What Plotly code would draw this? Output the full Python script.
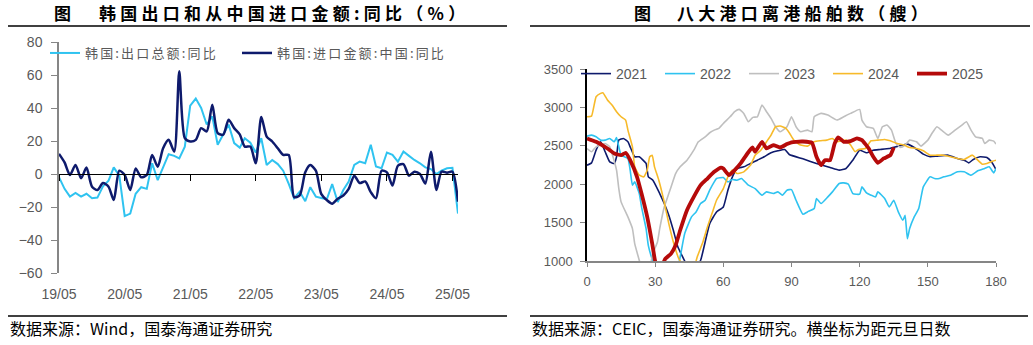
import plotly.graph_objects as go
import pandas as pd

# ---------------- Left panel data (monthly, YoY %) ----------------
months = pd.date_range("2019-05-01", "2025-06-01", freq="MS").strftime("%Y-%m-%d").tolist()
export_yoy = [-2, -9, -13.7, -11.5, -13.7, -12, -14.7, -14.3, -7.5, -4,
              4, -1, -25.5, -24, -12, -8, -9, 6.5, -3.7, 4.5,
              12, 11, 9.5, 16.6, 41.4, 45.7, 40, 30, 34.9, 17.7,
              23.8, 30, 18.7, 16, 21.7, 19, 13, 21.7, 5.5, 8.5,
              6, 2, -6, -14.7, -10.7, -16.5, -8, -13.7, -14.5, -15.4,
              -6.1, -17, -9.7, -4.6, 5.5, 7.5, 6.5, 17.7, 4.5, 3.5,
              13, 11.6, 7.5, 13.6, 11, 8.5, 6.5, 4, 3, 0,
              2, 3.5, 3.8, -24]
import_cn_yoy = [12.2, 7, -0.6, 5.5, -2.6, 3.9, -7.7, -9.7, -5.5, -7.7,
                 -15.8, 2, -0.6, -9.7, 3.4, -2, -0.6, 11.5, 4.4, 15.6,
                 20.7, 13.6, 62.3, 21.7, 19.7, 20.7, 27.8, 25.8, 42, 24.8,
                 23.8, 32.9, 27.8, 24, 16.6, 16.6, 6.5, 34.5, 22.7, 19.7,
                 15.6, 11.6, 11.5, -14, -13, 1, 5.4, 2, -12, -15.8,
                 -18, -15, -13, -9, -1, -5.5, -4.5, -11, -14.7, 2,
                 1, -7, 5, 6, -1, 1.4, 0, -5.7, 13.5, -9.7,
                 1.4, 0.8, 1.4, -16.8]
left_tick_vals = ["2019-05-01", "2020-05-01", "2021-05-01", "2022-05-01",
                  "2023-05-01", "2024-05-01", "2025-05-01"]
left_tick_text = ["19/05", "20/05", "21/05", "22/05", "23/05", "24/05", "25/05"]

# ---------------- Right panel data (days since New Year, ships) ----------------
d2021 = [0, 2, 4, 6, 8, 10, 12, 13, 14, 16, 18, 19, 21, 23, 26, 27, 29, 32, 34, 36, 38, 40, 43, 46,
         50, 52, 54, 57, 60, 62, 64, 66, 69, 72, 75, 78, 81, 84, 87, 89, 95, 101, 107, 111, 114,
         117, 120, 123, 126, 129, 133, 137, 141, 144, 148, 151, 154, 159, 163, 166, 168, 170, 173,
         176, 178, 180]
v2021 = [2248, 2278, 2443, 2552, 2422, 2291, 2270, 2357, 2574, 2596, 2552, 2487, 2357, 2357, 2270,
         2096, 2052, 1878, 1748, 1596, 1400, 1183, 1000, 820, 1009, 1248, 1487, 1639, 1704, 1922,
         2096, 2204, 2226, 2270, 2313, 2357, 2409, 2435, 2452, 2387, 2330, 2270, 2217, 2183, 2204,
         2313, 2443, 2409, 2443, 2452, 2465, 2496, 2522, 2478, 2391, 2357, 2365, 2378, 2335, 2313,
         2278, 2322, 2357, 2348, 2291, 2191]

d2022 = [0, 2, 4, 6, 8, 10, 12, 13, 14, 15, 18, 19, 20, 21, 23, 24, 26, 27, 29, 33, 39, 41, 43, 46,
         48, 50, 52, 54, 56, 57, 60, 62, 64, 66, 68, 71, 74, 77, 79, 82, 84, 86, 88, 90, 92, 95,
         97, 100, 101, 103, 106, 108, 111, 113, 115, 117, 120, 121, 123, 125, 127, 128, 131, 133,
         135, 137, 139, 140, 141, 142, 144, 146, 148, 151, 153, 155, 157, 160, 163, 166, 169, 172,
         175, 177, 179, 180]
v2022 = [2626, 2639, 2617, 2574, 2574, 2596, 2552, 2609, 2487, 2378, 2335, 2183, 1987, 2030, 1878,
         1704, 1422, 1200, 1000, 750, 800, 1052, 1357, 1574, 1639, 1748, 1791, 1922, 2030, 2074,
         2087, 2030, 2061, 2052, 2074, 1987, 1943, 1857, 1900, 1878, 1900, 1857, 1922, 1930, 1791,
         1609, 1639, 1683, 1813, 1748, 1835, 1900, 2009, 2017, 2000, 1878, 1870, 1965, 1887, 1857,
         1835, 1900, 1813, 1704, 1791, 1639, 1530, 1596, 1291, 1422, 1574, 1683, 1965, 2096, 2074,
         2074, 2096, 2117, 2161, 2161, 2117, 2174, 2204, 2226, 2148, 2204]

d2023 = [0, 2, 4, 6, 8, 10, 11, 13, 14, 15, 18, 20, 21, 23, 26, 29, 31, 32, 34, 35, 37, 39, 41, 44,
         47, 49, 52, 54, 56, 58, 60, 63, 65, 67, 69, 71, 73, 75, 77, 79, 81, 83, 85, 88, 90, 92,
         94, 97, 99, 100, 103, 106, 110, 113, 116, 120, 121, 123, 126, 128, 130, 132, 134, 136,
         138, 140, 142, 145, 147, 150, 152, 154, 156, 159, 162, 165, 167, 169, 171, 174, 175, 177,
         179, 180]
v2023 = [2465, 2422, 2487, 2509, 2530, 2487, 2400, 2183, 1943, 1770, 1574, 1422, 1226, 1009, 700,
         1096, 1248, 1422, 1704, 1791, 1965, 2139, 2226, 2313, 2443, 2552, 2617, 2670, 2704, 2726,
         2791, 2878, 2944, 2974, 2922, 2813, 2870, 2878, 3031, 2944, 2857, 2748, 2683, 2748, 2878,
         2748, 2683, 2704, 2683, 2878, 2922, 2900, 2835, 2878, 2922, 2974, 2835, 2748, 2726, 2596,
         2748, 2770, 2704, 2530, 2478, 2509, 2574, 2552, 2496, 2574, 2670, 2748, 2704, 2639, 2704,
         2770, 2813, 2704, 2617, 2596, 2530, 2574, 2561, 2522]

d2024 = [0, 2, 4, 6, 7, 9, 11, 13, 15, 17, 18, 20, 21, 23, 25, 26.5, 27.6, 28.7, 29.7, 31.6, 33.8,
         36, 38, 40.4, 41, 44, 48, 48.5, 51, 53, 55, 57, 60, 62, 64, 66, 69, 72, 74, 76.5, 79, 81,
         83, 85, 87.5, 89, 91, 94, 97, 100, 102.5, 105.5, 108, 110, 114, 116, 118, 119.5, 122.5,
         125, 128, 131, 133.5, 136.5, 139.5, 142, 145, 148, 151, 154, 157, 160, 163, 166, 169.6,
         172, 174, 176, 178.5, 180]
v2024 = [2878, 2887, 3139, 3183, 3191, 3096, 3031, 2944, 2878, 2835, 2704, 2487, 2226, 2117, 2096,
         2183, 2357, 2378, 2226, 2052, 1791, 1487, 1248, 1030, 1000, 780, 1000, 1052, 1248, 1443,
         1617, 1791, 1943, 2096, 2183, 2139, 2161, 2248, 2378, 2443, 2552, 2639, 2748, 2757, 2726,
         2670, 2574, 2509, 2496, 2552, 2565, 2574, 2596, 2552, 2574, 2509, 2422, 2452, 2465, 2565,
         2574, 2583, 2565, 2530, 2509, 2478, 2465, 2435, 2378, 2378, 2378, 2357, 2335, 2322, 2378,
         2313, 2261, 2270, 2300, 2313]

d2025 = [0, 4, 9, 12, 15, 17, 19, 22, 24, 26.5, 28.7, 30, 32, 34.5, 37, 39, 41, 44, 47, 50, 53, 56,
         59, 60, 62.5, 65, 67.6, 70.6, 72.8, 74, 77, 79, 82, 85, 88, 90, 92, 95, 99, 101, 103,
         104.7, 107, 109, 110.6, 113, 116, 118.8, 121, 124, 126, 128, 130.6, 133.5, 135]
v2025 = [2596, 2552, 2465, 2400, 2378, 2409, 2313, 2096, 1878, 1574, 1226, 1000, 880, 1030, 1096,
         1204, 1400, 1661, 1835, 1987, 2074, 2161, 2217, 2204, 2117, 2183, 2270, 2400, 2478, 2422,
         2552, 2465, 2509, 2478, 2522, 2545, 2552, 2556, 2539, 2357, 2248, 2313, 2313, 2530, 2609,
         2552, 2561, 2596, 2574, 2465, 2357, 2278, 2335, 2378, 2478]

W, H = 1033, 345
def px(x):
    return x / W
def py(y):
    return (H - y) / H

LIGHT = "#2FC3F0"
NAVY = "#0E1A6C"
TICKC = "#595959"
AXC = "#868686"
CJK = "Noto Sans CJK SC"
LAT = "Liberation Sans"

def spaced(s, sp="\u2006"):
    return sp.join(list(s))

fig = go.Figure()

# Left panel traces
fig.add_trace(go.Scatter(x=months, y=export_yoy, mode="lines",
                         name=spaced("韩国:出口总额:同比") + "\u2003\u2005",
                         line=dict(color=LIGHT, width=2), xaxis="x", yaxis="y", legend="legend",
                         hoverinfo="skip"))
fig.add_trace(go.Scatter(x=months, y=import_cn_yoy, mode="lines", name=spaced("韩国:进口金额:中国:同比"),
                         line=dict(color=NAVY, width=2.5, shape="spline", smoothing=0.7),
                         xaxis="x", yaxis="y", legend="legend", hoverinfo="skip"))
# helper invisible trace so the zero-line tick axis is drawn
fig.add_trace(go.Scatter(x=months, y=export_yoy, mode="lines", line=dict(width=0), opacity=0,
                         xaxis="x3", yaxis="y", showlegend=False, hoverinfo="skip"))

# Right panel traces
for d, v, nm, col, w in [(d2021, v2021, "2021", NAVY, 1.6),
                         (d2022, v2022, "2022", LIGHT, 1.6),
                         (d2023, v2023, "2023", "#BFBFBF", 1.6),
                         (d2024, v2024, "2024", "#F7BA2A", 1.6),
                         (d2025, v2025, "2025", "#B50A0A", 3.8)]:
    fig.add_trace(go.Scatter(x=d, y=v, mode="lines", name=nm,
                             line=dict(color=col, width=w, shape="spline", smoothing=0.4),
                             xaxis="x2", yaxis="y2", legend="legend2", hoverinfo="skip"))

fig.update_layout(
    template="none",
    width=W, height=H, margin=dict(l=0, r=0, t=0, b=0, pad=0, autoexpand=False),
    paper_bgcolor="white", plot_bgcolor="white", showlegend=True,
    xaxis=dict(domain=[px(59), px(458)], anchor="y", type="date", automargin=False,
               range=["2019-05-01", "2025-06-01"], tickvals=left_tick_vals, ticktext=left_tick_text,
               showline=False, showgrid=False, zeroline=False, ticks="outside", ticklen=8,
               tickcolor="rgba(0,0,0,0)", tickfont=dict(family=LAT, size=14, color=TICKC)),
    xaxis3=dict(overlaying="x", anchor="free", position=py(174), type="date", automargin=False,
                range=["2019-05-01", "2025-06-01"], tickvals=left_tick_vals,
                showticklabels=False, showline=True, linecolor="black", linewidth=1,
                ticks="outside", ticklen=6, tickcolor="black", showgrid=False, zeroline=False),
    yaxis=dict(domain=[py(273), py(42)], anchor="x", range=[-60, 80], dtick=20, automargin=False,
               showline=True, linecolor=AXC, linewidth=1.5, ticks="outside", ticklen=6, tickcolor=AXC,
               showgrid=False, zeroline=False, ticklabelstandoff=6,
               tickfont=dict(family=LAT, size=14, color=TICKC)),
    xaxis2=dict(domain=[px(587), px(996)], anchor="y2", range=[0, 180], dtick=30, tick0=0,
                automargin=False,
                showline=True, linecolor=AXC, linewidth=1.5, ticks="outside", ticklen=4,
                tickcolor=AXC, showgrid=False, zeroline=False, ticklabelstandoff=4,
                tickfont=dict(family=LAT, size=13, color=TICKC)),
    yaxis2=dict(domain=[py(261), py(69)], anchor="x2", range=[1000, 3500], dtick=500,
                automargin=False,
                showline=True, linecolor="black", linewidth=1.5, ticks="outside", ticklen=5,
                tickcolor=AXC, showgrid=False, zeroline=False, ticklabelstandoff=5,
                tickfont=dict(family=LAT, size=13, color=TICKC)),
    legend=dict(orientation="h", x=px(45), xanchor="left", y=py(38), yanchor="top",
                bgcolor="rgba(0,0,0,0)", borderwidth=0,
                font=dict(family=CJK, size=13, color=TICKC)),
    legend2=dict(orientation="h", x=px(576), xanchor="left", y=py(58), yanchor="top",
                 bgcolor="rgba(0,0,0,0)", borderwidth=0, entrywidth=39, entrywidthmode="pixels",
                 font=dict(family=LAT, size=14, color=TICKC)),
)

# Titles, rules and source notes
title_font = dict(family=CJK, size=17, color="black", weight="bold")
for xc, txt, anchor in [(62, "图", "center"),
                        (97, spaced("韩国出口和从中国进口金额:同比（%）", "\u2005"), "left"),
                        (642, "图", "center"),
                        (675, spaced("八大港口离港船舶数（艘）", "\u2005"), "left")]:
    fig.add_annotation(x=px(xc), y=py(12), xref="paper", yref="paper", showarrow=False,
                       xanchor=anchor, yanchor="middle", text=txt, font=title_font)
for x0, x1, yy in [(8, 507, 26), (530, 1030, 26), (8, 507, 316), (530, 1028, 316)]:
    fig.add_shape(type="line", xref="paper", yref="paper", x0=px(x0), x1=px(x1), y0=py(yy), y1=py(yy),
                  line=dict(color="black", width=1.5))
foot_font = dict(family=CJK, size=16, color="black")
fig.add_annotation(x=px(8), y=py(328), xref="paper", yref="paper", showarrow=False,
                   xanchor="left", yanchor="middle",
                   text="数据来源：Wind，国泰海通证券研究", font=foot_font)
fig.add_annotation(x=px(530), y=py(328), xref="paper", yref="paper", showarrow=False,
                   xanchor="left", yanchor="middle",
                   text="数据来源：CEIC，国泰海通证券研究。横坐标为距元旦日数", font=foot_font)

fig.write_html("out.html")
